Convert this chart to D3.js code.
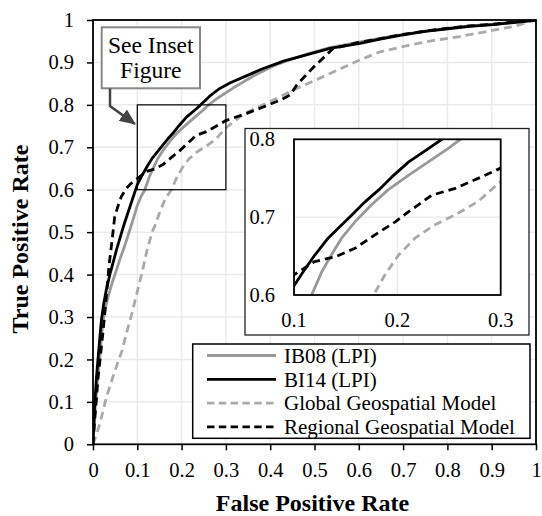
<!DOCTYPE html>
<html>
<head>
<meta charset="utf-8">
<script src="https://cdn.jsdelivr.net/npm/d3@7"></script>
<style>
  body { margin: 0; background: #fff; }
  svg, svg text { font-family: "Liberation Serif", "Times New Roman", serif; }
  svg { display: block; }
</style>
</head>
<body>
<svg id="chart" width="542" height="516"></svg>
<script>
// ROC curves, [false positive rate, true positive rate]
var ib08 = [[0,0],[0.003,0.05],[0.006,0.10],[0.010,0.15],[0.015,0.20],[0.019,0.25],[0.023,0.293],[0.028,0.32],[0.034,0.348],[0.043,0.38],[0.053,0.411],[0.062,0.44],[0.071,0.466],[0.083,0.505],[0.092,0.535],[0.1,0.563],[0.108,0.583],[0.117,0.60],[0.127,0.63],[0.136,0.651],[0.146,0.673],[0.159,0.694],[0.175,0.716],[0.191,0.735],[0.211,0.754],[0.230,0.771],[0.249,0.788],[0.261,0.80],[0.28,0.815],[0.317,0.84],[0.36,0.867],[0.40,0.888],[0.44,0.905],[0.49,0.922],[0.535,0.935],[0.60,0.948],[0.65,0.957],[0.70,0.966],[0.75,0.974],[0.806,0.981],[0.85,0.986],[0.904,0.99],[0.95,0.995],[1,1]];
var bi14 = [[0,0],[0.002,0.05],[0.004,0.097],[0.008,0.16],[0.012,0.21],[0.015,0.246],[0.019,0.293],[0.024,0.33],[0.030,0.364],[0.038,0.40],[0.045,0.427],[0.053,0.458],[0.064,0.497],[0.071,0.521],[0.086,0.568],[0.1,0.612],[0.11,0.632],[0.120,0.651],[0.133,0.673],[0.143,0.686],[0.153,0.699],[0.169,0.720],[0.182,0.735],[0.195,0.752],[0.211,0.771],[0.230,0.788],[0.243,0.80],[0.264,0.821],[0.285,0.838],[0.31,0.852],[0.35,0.87],[0.38,0.884],[0.43,0.903],[0.49,0.92],[0.535,0.933],[0.603,0.945],[0.648,0.955],[0.70,0.965],[0.75,0.973],[0.806,0.98],[0.85,0.985],[0.904,0.989],[0.95,0.994],[1,1]];
var globalGeo = [[0,0],[0.010,0.03],[0.017,0.055],[0.03,0.11],[0.045,0.159],[0.055,0.19],[0.066,0.222],[0.075,0.26],[0.088,0.309],[0.100,0.36],[0.112,0.41],[0.122,0.458],[0.135,0.505],[0.139,0.513],[0.150,0.545],[0.162,0.576],[0.177,0.60],[0.188,0.626],[0.201,0.651],[0.217,0.673],[0.236,0.690],[0.256,0.703],[0.278,0.720],[0.3,0.746],[0.32,0.762],[0.342,0.78],[0.384,0.80],[0.42,0.818],[0.452,0.835],[0.5,0.857],[0.535,0.874],[0.603,0.906],[0.648,0.925],[0.716,0.941],[0.77,0.952],[0.828,0.961],[0.904,0.976],[0.95,0.985],[1,1]];
var regionalGeo = [[0,0],[0.004,0.06],[0.008,0.11],[0.011,0.152],[0.017,0.21],[0.023,0.269],[0.030,0.348],[0.036,0.42],[0.043,0.48],[0.049,0.536],[0.056,0.56],[0.064,0.584],[0.075,0.603],[0.086,0.615],[0.1,0.626],[0.120,0.643],[0.140,0.649],[0.159,0.66],[0.178,0.677],[0.198,0.694],[0.211,0.707],[0.233,0.728],[0.256,0.737],[0.282,0.752],[0.3,0.763],[0.347,0.78],[0.377,0.792],[0.422,0.811],[0.445,0.823],[0.46,0.847],[0.497,0.888],[0.542,0.933],[0.6,0.947],[0.65,0.956],[0.70,0.966],[0.75,0.974],[0.806,0.981],[0.85,0.986],[0.904,0.99],[0.95,0.995],[1,1]];

var seriesNames = ["IB08 (LPI)", "BI14 (LPI)", "Global Geospatial Model", "Regional Geospatial Model"];
var xTicks = [0,0.1,0.2,0.3,0.4,0.5,0.6,0.7,0.8,0.9,1];
var yTicks = [0,0.1,0.2,0.3,0.4,0.5,0.6,0.7,0.8,0.9,1];
var insetXTicks = [0.1,0.2,0.3];
var insetYTicks = [0.6,0.7,0.8];

// legend order = seriesNames order
var legendSeries = [
    { name: seriesNames[0], data: ib08, color: "#999999", dash: null },
    { name: seriesNames[1], data: bi14, color: "#000000", dash: null },
    { name: seriesNames[2], data: globalGeo, color: "#aaaaaa", dash: "8,5" },
    { name: seriesNames[3], data: regionalGeo, color: "#000000", dash: "8,5" }
];
// drawing order: light lines underneath
var series = [legendSeries[2], legendSeries[0], legendSeries[3], legendSeries[1]];

var fmt = function(d) { return d === 0 ? "0" : d === 1 ? "1" : d.toFixed(1); };

var svg = d3.select("#chart");
var defs = svg.append("defs");

var x = d3.scaleLinear().domain([0, 1]).range([93, 536]);
var y = d3.scaleLinear().domain([0, 1]).range([444.3, 20]);

defs.append("clipPath").attr("id", "mainclip").append("rect")
    .attr("x", x(0)).attr("y", y(1)).attr("width", x(1) - x(0)).attr("height", y(0) - y(1));

// grid
var grid = svg.append("g").attr("stroke", "#ebebeb").attr("stroke-width", 1.5);
grid.selectAll(".vx").data(xTicks.slice(1, -1)).enter().append("line")
    .attr("x1", function(d) { return x(d); }).attr("x2", function(d) { return x(d); })
    .attr("y1", y(0)).attr("y2", y(1));
grid.selectAll(".hy").data(yTicks.slice(1, -1)).enter().append("line")
    .attr("y1", function(d) { return y(d); }).attr("y2", function(d) { return y(d); })
    .attr("x1", x(0)).attr("x2", x(1));

var line = d3.line().x(function(d) { return x(d[0]); }).y(function(d) { return y(d[1]); });

svg.append("g").attr("clip-path", "url(#mainclip)")
    .selectAll("path").data(series).enter().append("path")
        .attr("d", function(d) { return line(d.data); })
        .attr("fill", "none")
        .attr("stroke", function(d) { return d.color; })
        .attr("stroke-width", 2.8)
        .attr("stroke-dasharray", function(d) { return d.dash; })
        .attr("stroke-linejoin", "round");

// zoom window marker
svg.append("rect")
    .attr("x", x(0.1)).attr("y", y(0.8))
    .attr("width", x(0.3) - x(0.1)).attr("height", y(0.6) - y(0.8))
    .attr("fill", "none").attr("stroke", "#000").attr("stroke-width", 1.2);

// inset panel
svg.append("rect")
    .attr("x", 245).attr("y", 128.5).attr("width", 284).attr("height", 206.5)
    .attr("fill", "#fff").attr("stroke", "#222").attr("stroke-width", 1.3);

var ix = d3.scaleLinear().domain([0.1, 0.3]).range([294, 500.7]);
var iy = d3.scaleLinear().domain([0.6, 0.8]).range([295, 139.3]);

defs.append("clipPath").attr("id", "insetclip").append("rect")
    .attr("x", ix(0.1)).attr("y", iy(0.8)).attr("width", ix(0.3) - ix(0.1)).attr("height", iy(0.6) - iy(0.8));

var igrid = svg.append("g").attr("stroke", "#ececec").attr("stroke-width", 1.5);
igrid.selectAll("line.v").data(insetXTicks.slice(1, -1)).enter().append("line")
    .attr("x1", function(d) { return ix(d); }).attr("x2", function(d) { return ix(d); })
    .attr("y1", iy(0.6)).attr("y2", iy(0.8));
igrid.selectAll("line.h").data(insetYTicks.slice(1, -1)).enter().append("line")
    .attr("y1", function(d) { return iy(d); }).attr("y2", function(d) { return iy(d); })
    .attr("x1", ix(0.1)).attr("x2", ix(0.3));

var iline = d3.line().x(function(d) { return ix(d[0]); }).y(function(d) { return iy(d[1]); });
svg.append("g").attr("clip-path", "url(#insetclip)")
    .selectAll("path").data(series).enter().append("path")
        .attr("d", function(d) { return iline(d.data); })
        .attr("fill", "none")
        .attr("stroke", function(d) { return d.color; })
        .attr("stroke-width", 2.8)
        .attr("stroke-dasharray", function(d) { return d.dash; })
        .attr("stroke-linejoin", "round");

svg.append("rect")
    .attr("x", ix(0.1)).attr("y", iy(0.8))
    .attr("width", ix(0.3) - ix(0.1)).attr("height", iy(0.6) - iy(0.8))
    .attr("fill", "none").attr("stroke", "#000").attr("stroke-width", 1.8);

svg.append("g").selectAll("text").data(insetYTicks).enter().append("text")
    .attr("x", 275).attr("y", function(d) { return iy(d); }).attr("dy", "0.35em")
    .attr("text-anchor", "end").attr("font-size", 20.5)
    .text(fmt);
svg.append("g").selectAll("text").data(insetXTicks).enter().append("text")
    .attr("x", function(d) { return ix(d); }).attr("y", 327)
    .attr("text-anchor", "middle").attr("font-size", 20.5)
    .text(fmt);

// legend
var legend = svg.append("g");
legend.append("rect")
    .attr("x", 192.7).attr("y", 344).attr("width", 337.3).attr("height", 94.3)
    .attr("fill", "#fff").attr("stroke", "#000").attr("stroke-width", 1.5);
var rows = legend.selectAll("g.row").data(legendSeries).enter().append("g")
    .attr("transform", function(d, i) { return "translate(0," + (355.5 + i * 23.8) + ")"; });
rows.append("line")
    .attr("x1", 207).attr("x2", 276)
    .attr("stroke", function(d) { return d.color; })
    .attr("stroke-width", 2.8)
    .attr("stroke-dasharray", function(d) { return d.dash ? "7.5,4.3" : null; });
rows.append("text")
    .attr("x", 284).attr("dy", "0.35em").attr("font-size", 21)
    .text(function(d) { return d.name; });

// callout
svg.append("rect")
    .attr("x", 101.7).attr("y", 27.3).attr("width", 98.3).attr("height", 61)
    .attr("fill", "#fff").attr("stroke", "#888").attr("stroke-width", 2);
svg.append("text").attr("x", 150.8).attr("y", 53).attr("text-anchor", "middle")
    .attr("font-size", 23.5).text("See Inset");
svg.append("text").attr("x", 150.8).attr("y", 77.5).attr("text-anchor", "middle")
    .attr("font-size", 23.5).text("Figure");

defs.append("marker").attr("id", "arrow")
    .attr("markerUnits", "userSpaceOnUse")
    .attr("viewBox", "0 -7 16 14").attr("markerWidth", 16).attr("markerHeight", 14)
    .attr("refX", 15).attr("refY", 0).attr("orient", "auto")
    .append("path").attr("d", "M0,-7L16,0L0,7Z").attr("fill", "#444");
svg.append("path")
    .attr("d", "M110,88.5V106L135,124")
    .attr("fill", "none").attr("stroke", "#444").attr("stroke-width", 2.5)
    .attr("marker-end", "url(#arrow)");

// axes
var yAxis = svg.append("g").attr("transform", "translate(" + x(0) + ",0)")
    .call(d3.axisLeft(y).tickValues(yTicks).tickSize(6).tickPadding(13).tickFormat(fmt));
var xAxis = svg.append("g").attr("transform", "translate(0," + y(0) + ")")
    .call(d3.axisBottom(x).tickValues(xTicks).tickSize(6).tickPadding(12).tickFormat(fmt));
[yAxis, xAxis].forEach(function(g) {
    g.attr("font-family", null).attr("font-size", 20.5);
    g.select(".domain").remove();
    g.selectAll(".tick line").attr("stroke-width", 1.5);
});

svg.append("rect")
    .attr("x", x(0)).attr("y", y(1)).attr("width", x(1) - x(0)).attr("height", y(0) - y(1))
    .attr("fill", "none").attr("stroke", "#000").attr("stroke-width", 1.8);

svg.append("text")
    .attr("transform", "translate(28,239) rotate(-90)")
    .attr("text-anchor", "middle").attr("font-size", 24).attr("font-weight", "bold")
    .text("True Positive Rate");
svg.append("text")
    .attr("x", 312.5).attr("y", 511)
    .attr("text-anchor", "middle").attr("font-size", 24).attr("font-weight", "bold")
    .text("False Positive Rate");
</script>
</body>
</html>
